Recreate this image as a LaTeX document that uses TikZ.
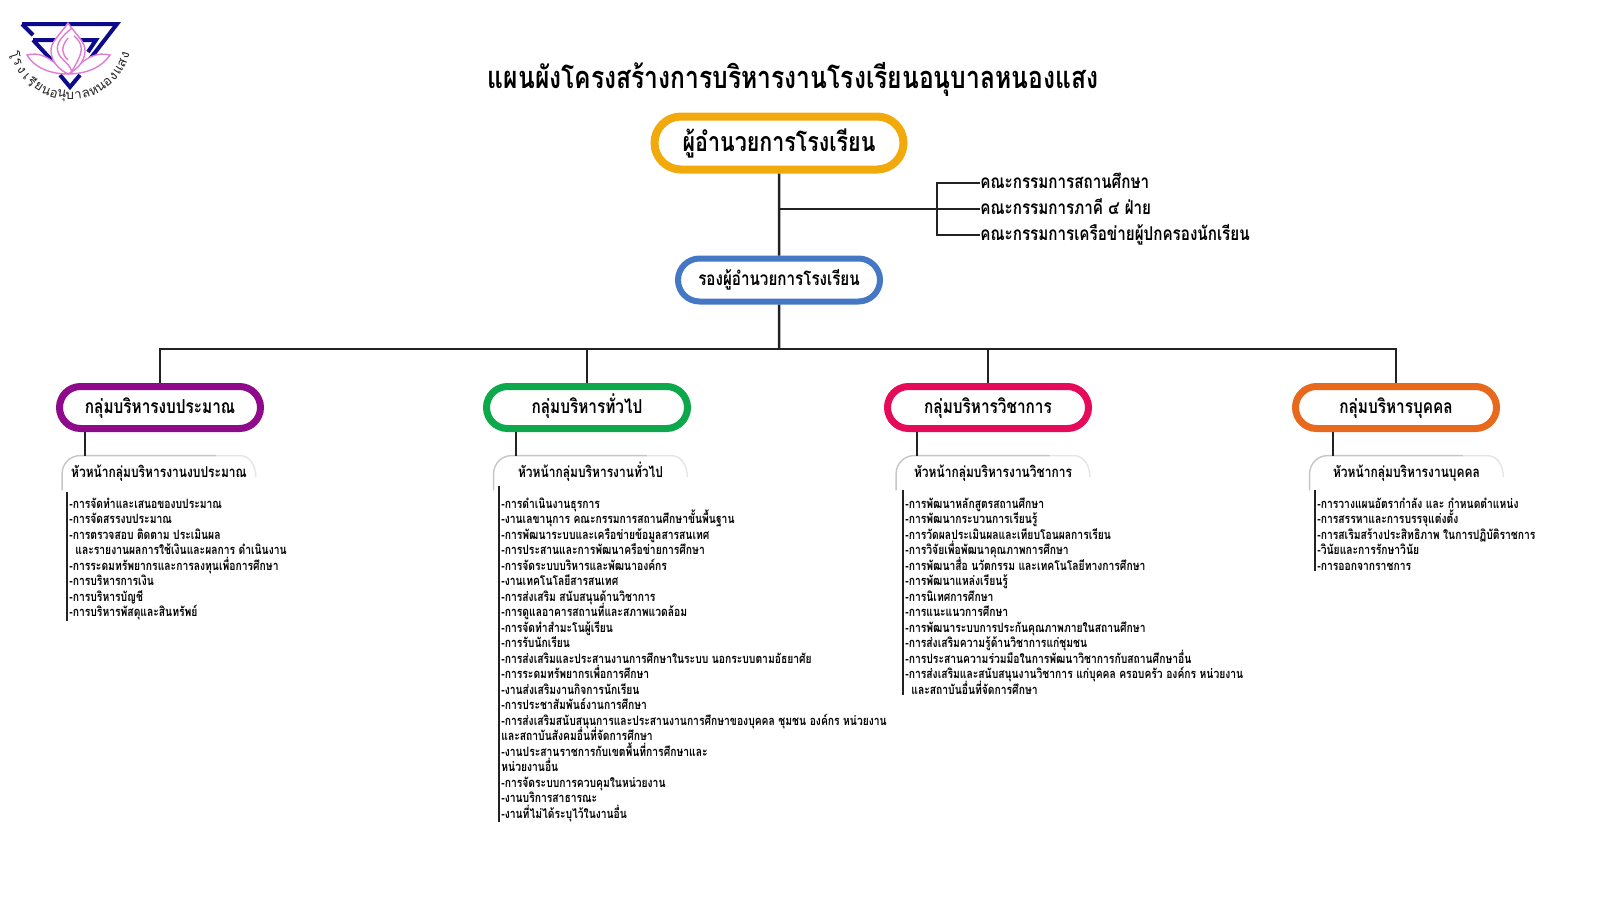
\documentclass[tikz,border=0pt]{standalone}
\usepackage{fontspec}
\newfontfamily\thaifont[Script=Thai]{Loma}
\newfontfamily\thaibold[Script=Thai,FakeStretch=0.8]{Loma Bold}
\usetikzlibrary{calc, positioning, shapes.misc}

\definecolor{lineink}{HTML}{222222}
\definecolor{logoblue}{HTML}{0B0B8C}
\definecolor{logopink}{HTML}{E07CD2}
\definecolor{bossgold}{HTML}{F2A90C}
\definecolor{viceblue}{HTML}{4478C4}
\definecolor{budgetpurple}{HTML}{8E0A8A}
\definecolor{generalgreen}{HTML}{0CA84B}
\definecolor{academicred}{HTML}{E60B5A}
\definecolor{staffred}{HTML}{E8681C}

\tikzset{
	pill/.style = {rounded rectangle, draw=#1, fill=white, inner sep=0pt, text=black},
	bosspill/.style = {pill=#1, line width=4pt, minimum width=124.5pt, minimum height=26.5pt, font=\thaibold\fontsize{13.4}{16}\selectfont},
	vicepill/.style = {pill=#1, line width=3pt, minimum width=101pt, minimum height=21.5pt, text height=8pt, text depth=2.5pt, font=\thaibold\fontsize{9.5}{12}\selectfont},
	grouppill/.style = {pill=#1, line width=3.5pt, minimum width=100.5pt, minimum height=21pt, text height=8pt, text depth=2.5pt, font=\thaibold\fontsize{9.6}{12}\selectfont},
	headtab/.style = {fill=white, inner sep=0pt, minimum width=96.5pt, minimum height=17pt, text height=6.5pt, text depth=2pt, font=\thaibold\fontsize{7.5}{10}\selectfont},
	tabedge/.style = {draw=gray!45, line width=0.7pt, rounded corners=9pt},
	committee/.style = {inner sep=0pt, text height=7pt, text depth=2pt, font=\thaibold\fontsize{9.5}{11}\selectfont},
	worklist/.style = {inner sep=0pt, anchor=north west, align=left, font=\thaibold\fontsize{6.45}{7.75}\selectfont},
	link/.style = {draw=lineink, line width=1.25pt},
	listbar/.style = {draw=lineink, line width=1pt},
	logoline/.style = {draw=logoblue, line width=2pt},
	lotus/.style = {draw=logopink, line width=0.7pt}
}
\newcommand{\firstrow}{\rule{0pt}{8pt}}

\begin{document}
\setlength{\lineskiplimit}{-20pt}
\begin{tikzpicture}[x=0.5pt, y=-0.5pt, node distance=20pt, on grid]
	\useasboundingbox (0,0) rectangle (1600,900);

	% logo
	\draw[logoline] (22,24) -- (117,24) -- (90,59);
	\draw[logoline] (22,24) -- (33,35);
	\draw[logoline] (33,40) -- (96,40) -- (88,52);
	\draw[logoline] (33,40) -- (57,66);
	\draw[logoline] (60,75) -- (70,87) -- (80,75);
	\draw[lotus, fill=white] (27,55) .. controls (40,52) and (48,56) .. (68,74) .. controls (88,56) and (96,52) .. (110,55) .. controls (103,66) and (88,74) .. (68,74) .. controls (48,74) and (33,66) .. (27,55) -- cycle;
	\draw[lotus, fill=white] (68,23) .. controls (60,35) and (50,42) .. (51,52) .. controls (52,63) and (60,70) .. (68,74) .. controls (76,70) and (84,63) .. (85,52) .. controls (86,42) and (76,35) .. (68,23) -- cycle;
	\draw[lotus] (72,28) .. controls (62,36) and (55,44) .. (58,52) .. controls (60,60) and (72,64) .. (72,74);
	\draw[lotus] (68,38) .. controls (60,48) and (62,54) .. (68,60);
	\draw[lotus] (74,36) .. controls (84,44) and (82,52) .. (78,60) .. controls (76,64) and (74,68) .. (70,74);
	\foreach \ch [count=\i, evaluate=\i as \ang using {197+(\i-1)*8.1}] in {โ,ร,ง,เ,รี,ย,น,อ,นุ,บ,า,ล,ห,น,อ,ง,แ,ส,ง}
		\node[inner sep=0pt, text=lineink, rotate=\ang+90, font=\thaifont\fontsize{6.6}{8}\selectfont] (logo\i) at ($(70,38)+(\ang:29pt)$) {\ch};

	% title
	\node[font=\thaibold\fontsize{15.4}{20}\selectfont, inner sep=0pt] (title) at (793,79) {แผนผังโครงสร้างการบริหารงานโรงเรียนอนุบาลหนองแสง};

	% top of the tree
	\node[bosspill=bossgold] (principal) at (779,143) {ผู้อำนวยการโรงเรียน};
	\node[vicepill=viceblue, below=68.5pt of principal] (vice) {รองผู้อำนวยการโรงเรียน};
	\node[committee, anchor=west] (board1) at (980,183) {คณะกรรมการสถานศึกษา};
	\node[committee, below=13pt of board1.west, anchor=west] (board2) {คณะกรรมการภาคี ๔ ฝ่าย};
	\node[committee, below=13pt of board2.west, anchor=west] (board3) {คณะกรรมการเครือข่ายผู้ปกครองนักเรียน};

	% groups
	\node[grouppill=budgetpurple] (group1) at (160,407.5) {กลุ่มบริหารงบประมาณ};
	\node[grouppill=generalgreen, right=213.5pt of group1] (group2) {กลุ่มบริหารทั่วไป};
	\node[grouppill=academicred, right=200.5pt of group2] (group3) {กลุ่มบริหารวิชาการ};
	\node[grouppill=staffred, right=204pt of group3] (group4) {กลุ่มบริหารบุคคล};

	\node[headtab, below=32.75pt of group1, xshift=-0.5pt] (head1) {หัวหน้ากลุ่มบริหารงานงบประมาณ};
	\node[headtab, below=32.75pt of group2, xshift=1.75pt] (head2) {หัวหน้ากลุ่มบริหารงานทั่วไป};
	\node[headtab, below=32.75pt of group3, xshift=2.5pt] (head3) {หัวหน้ากลุ่มบริหารงานวิชาการ};
	\node[headtab, below=32.75pt of group4, xshift=5.25pt] (head4) {หัวหน้ากลุ่มบริหารงานบุคคล};

	\foreach \g in {1,2,3,4} {
		\path[tabedge] (head\g.south west) |- ([xshift=-20pt]head\g.north east);
		\path[draw=gray!20, line width=0.7pt] ([xshift=-20pt]head\g.north east) -- ([xshift=-8pt]head\g.north east) to[out=0, in=90] ([yshift=-2pt]head\g.east);
	}

	% work lists
	\node[worklist] (list1) at (69,492) {\firstrow-การจัดทำและเสนอของบประมาณ\\
		-การจัดสรรงบประมาณ\\
		-การตรวจสอบ ติดตาม ประเมินผล\\
		\hspace*{3pt}และรายงานผลการใช้เงินและผลการ ดำเนินงาน\\
		-การระดมทรัพยากรและการลงทุนเพื่อการศึกษา\\
		-การบริหารการเงิน\\
		-การบริหารบัญชี\\
		-การบริหารพัสดุและสินทรัพย์};
	\node[worklist] (list2) at (501,492) {\firstrow-การดำเนินงานธุรการ\\
		-งานเลขานุการ คณะกรรมการสถานศึกษาขั้นพื้นฐาน\\
		-การพัฒนาระบบและเครือข่ายข้อมูลสารสนเทศ\\
		-การประสานและการพัฒนาครือข่ายการศึกษา\\
		-การจัดระบบบริหารและพัฒนาองค์กร\\
		-งานเทคโนโลยีสารสนเทศ\\
		-การส่งเสริม สนับสนุนด้านวิชาการ\\
		-การดูแลอาคารสถานที่และสภาพแวดล้อม\\
		-การจัดทำสำมะโนผู้เรียน\\
		-การรับนักเรียน\\
		-การส่งเสริมและประสานงานการศึกษาในระบบ นอกระบบตามอัธยาศัย\\
		-การระดมทรัพยากรเพื่อการศึกษา\\
		-งานส่งเสริมงานกิจการนักเรียน\\
		-การประชาสัมพันธ์งานการศึกษา\\
		-การส่งเสริมสนับสนุนการและประสานงานการศึกษาของบุคคล ชุมชน องค์กร หน่วยงาน\\
		และสถาบันสังคมอื่นที่จัดการศึกษา\\
		-งานประสานราชการกับเขตพื้นที่การศึกษาและ\\
		หน่วยงานอื่น\\
		-การจัดระบบการควบคุมในหน่วยงาน\\
		-งานบริการสาธารณะ\\
		-งานที่ไม่ได้ระบุไว้ในงานอื่น};
	\node[worklist] (list3) at (905,492) {\firstrow-การพัฒนาหลักสูตรสถานศึกษา\\
		-การพัฒนากระบวนการเรียนรู้\\
		-การวัดผลประเมินผลและเทียบโอนผลการเรียน\\
		-การวิจัยเพื่อพัฒนาคุณภาพการศึกษา\\
		-การพัฒนาสื่อ นวัตกรรม และเทคโนโลยีทางการศึกษา\\
		-การพัฒนาแหล่งเรียนรู้\\
		-การนิเทศการศึกษา\\
		-การแนะแนวการศึกษา\\
		-การพัฒนาระบบการประกันคุณภาพภายในสถานศึกษา\\
		-การส่งเสริมความรู้ด้านวิชาการแก่ชุมชน\\
		-การประสานความร่วมมือในการพัฒนาวิชาการกับสถานศึกษาอื่น\\
		-การส่งเสริมและสนับสนุนงานวิชาการ แก่บุคคล ครอบครัว องค์กร หน่วยงาน\\
		\hspace*{3pt}และสถาบันอื่นที่จัดการศึกษา};
	\node[worklist] (list4) at (1317,492) {\firstrow-การวางแผนอัตรากำลัง และ กำหนดตำแหน่ง\\
		-การสรรหาและการบรรจุแต่งตั้ง\\
		-การสเริมสร้างประสิทธิภาพ ในการปฏิบัติราชการ\\
		-วินัยและการรักษาวินัย\\
		-การออกจากราชการ};

	% connectors
	\coordinate (tee) at (779,209);
	\coordinate (bracket) at (937,209);
	\coordinate (bus) at (779,349);
	\path[link] (principal) -- (vice);
	\path[link] (tee) -- (board2.west);
	\path[link] (board1.west) -| (bracket) |- (board3.west);
	\path[link] (vice) -- (bus);
	\foreach \g in {1,2,3,4}
		\path[link] (bus) -| (group\g.north);
	\foreach \g/\dx in {1/-37.5,2/-35.5,3/-35.5,4/-31.5}
		\path[link, line width=1pt] ([xshift=\dx pt]group\g.south) -- ([xshift=\dx pt]group\g.south |- head\g.north);
	\foreach \g/\up in {1/0,2/3,3/1,4/1}
		\path[listbar] ([xshift=-1pt, yshift=\up pt]list\g.north west) -- ([xshift=-1pt]list\g.south west);
\end{tikzpicture}
\end{document}
